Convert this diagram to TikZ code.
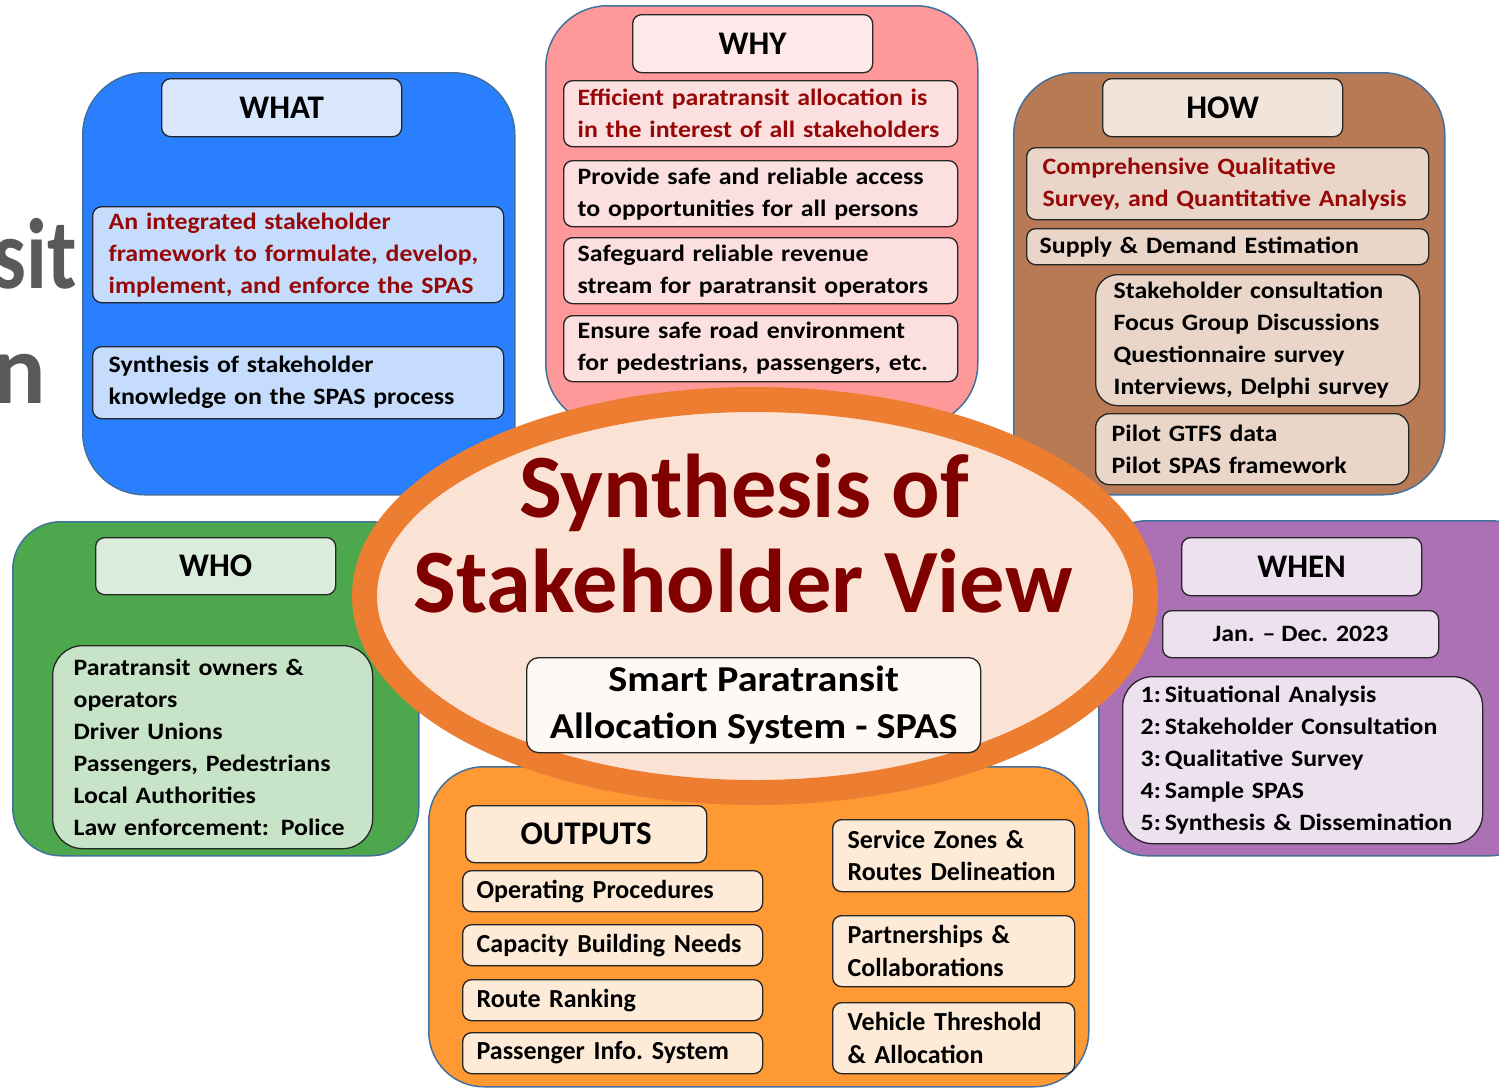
\documentclass[tikz,border=0pt]{standalone}
\usepackage{fontspec}
\setmainfont{Carlito}
\newfontfamily\widefont[FakeStretch=1.1,Ligatures=TeX]{Carlito}
\usetikzlibrary{shapes.geometric}
\definecolor{edgeb}{RGB}{65,113,156}
\definecolor{redtxt}{RGB}{150,8,8}
\definecolor{titlered}{RGB}{128,0,0}
\definecolor{graytxt}{RGB}{89,89,89}
\definecolor{whatbg}{RGB}{42,127,255}
\definecolor{whatt}{RGB}{216,231,252}
\definecolor{whats}{RGB}{197,220,253}
\definecolor{whybg}{RGB}{255,153,153}
\definecolor{whyt}{RGB}{253,233,233}
\definecolor{whys}{RGB}{252,224,224}
\definecolor{howbg}{RGB}{184,122,85}
\definecolor{howt}{RGB}{241,228,219}
\definecolor{hows}{RGB}{233,214,200}
\definecolor{whobg}{RGB}{77,168,77}
\definecolor{whot}{RGB}{218,236,218}
\definecolor{whos}{RGB}{200,228,200}
\definecolor{whenbg}{RGB}{171,113,180}
\definecolor{whens}{RGB}{237,225,239}
\definecolor{outbg}{RGB}{255,153,51}
\definecolor{outs}{RGB}{253,234,215}
\definecolor{ring}{RGB}{237,125,49}
\definecolor{ellin}{RGB}{250,227,212}
\definecolor{centbox}{RGB}{254,249,245}
\newcommand\myfs[2]{\fontsize{#1bp}{#2bp}\selectfont\bfseries}
\newcommand\mywfs[2]{\widefont\fontsize{#1bp}{#2bp}\selectfont\bfseries}
\tikzset{
  big/.style={draw=edgeb, line width=1.5bp, anchor=north west, inner sep=0pt, rounded corners=62bp},
  sub/.style={draw=black!85, line width=1.3bp, rounded corners=9bp, anchor=north west, align=left, inner ysep=0pt, font=\mywfs{23.5}{32}},
  ttl/.style={draw=black!85, line width=1.3bp, rounded corners=9bp, anchor=north west, align=center, inner sep=0pt, font=\myfs{33}{35}},
  osub/.style={sub, font=\myfs{26}{32.5}},
}
\begin{document}
\begin{tikzpicture}[x=1bp,y=-1bp]
\useasboundingbox (0,0) rectangle (1499,1088);
\clip (0,0) rectangle (1499,1088);
% background fragments
\node[anchor=base east, text=graytxt, font=\myfs{100}{100}, inner sep=0pt] (frag1) at (77,288) {\scalebox{0.85}[1]{sit}};
\node[anchor=base east, text=graytxt, font=\myfs{100}{100}, inner sep=0pt] (frag2) at (46,403) {n};
% WHAT
\node[big, fill=whatbg, minimum width=432bp, minimum height=422bp] (what) at (82,72) {};
\node[ttl, fill=whatt, minimum width=240bp, minimum height=58bp] (whatt) at (161,78) {WHAT};
\node[sub, fill=whats, minimum width=411bp, minimum height=96bp, text width=379bp, inner xsep=16bp, text=redtxt] (what1) at (92,206) {An integrated stakeholder\\framework to formulate, develop,\\implement, and enforce the SPAS};
\node[sub, fill=whats, minimum width=411bp, minimum height=72bp, text width=379bp, inner xsep=16bp] (what2) at (92,346) {Synthesis of stakeholder\\knowledge on the SPAS process};
% WHY
\node[big, fill=whybg, minimum width=432bp, minimum height=420bp] (why) at (545,5) {};
\node[ttl, fill=whyt, minimum width=240bp, minimum height=58bp] (whyt) at (632,14) {WHY};
\node[sub, fill=whys, minimum width=394bp, minimum height=66bp, text width=366bp, inner xsep=14bp, text=redtxt] (why1) at (563,80) {Efficient paratransit allocation is\\in the interest of all stakeholders};
\node[sub, fill=whys, minimum width=394bp, minimum height=66bp, text width=366bp, inner xsep=14bp] (why2) at (563,160) {Provide safe and reliable access\\to opportunities for all persons};
\node[sub, fill=whys, minimum width=394bp, minimum height=66bp, text width=366bp, inner xsep=14bp] (why3) at (563,237) {Safeguard reliable revenue\\stream for paratransit operators};
\node[sub, fill=whys, minimum width=394bp, minimum height=66bp, text width=366bp, inner xsep=14bp] (why4) at (563,315) {Ensure safe road environment\\for pedestrians, passengers, etc.};
% HOW
\node[big, fill=howbg, minimum width=431bp, minimum height=422bp] (how) at (1013,72) {};
\node[ttl, fill=howt, minimum width=240bp, minimum height=58bp] (howt) at (1102,78) {HOW};
\node[sub, fill=hows, minimum width=402bp, minimum height=72bp, text width=370bp, inner xsep=16bp, text=redtxt] (how1) at (1026,147) {Comprehensive Qualitative\\Survey, and Quantitative Analysis};
\node[sub, fill=hows, minimum width=402bp, minimum height=36bp, text width=376bp, inner xsep=13bp] (how2) at (1026,228) {Supply \& Demand Estimation};
\node[sub, fill=hows, minimum width=324bp, minimum height=131bp, text width=288bp, inner xsep=18bp, rounded corners=22bp] (how3) at (1095,274) {Stakeholder consultation\\Focus Group Discussions\\Questionnaire survey\\Interviews, Delphi survey};
\node[sub, fill=hows, minimum width=313bp, minimum height=71bp, text width=281bp, inner xsep=16bp, rounded corners=14bp] (how4) at (1095,413) {Pilot GTFS data\\Pilot SPAS framework};
% WHO
\node[big, fill=whobg, minimum width=406bp, minimum height=334bp, rounded corners=48bp] (who) at (12,521) {};
\node[ttl, fill=whot, minimum width=240bp, minimum height=57bp] (whot) at (95,537) {WHO};
\node[sub, fill=whos, minimum width=320bp, minimum height=203bp, text width=278bp, inner xsep=21bp, rounded corners=30bp] (who1) at (52,645) {Paratransit owners \&\\operators\\Driver Unions\\Passengers, Pedestrians\\Local Authorities\\Law enforcement: Police};
% WHEN
\node[big, fill=whenbg, minimum width=440bp, minimum height=335bp, rounded corners=48bp] (when) at (1098,520) {};
\node[ttl, fill=whens, minimum width=240bp, minimum height=58bp] (whent) at (1181,537) {WHEN};
\node[sub, fill=whens, minimum width=276bp, minimum height=47bp, align=center, inner xsep=0pt] (when1) at (1162,610) {Jan. – Dec. 2023};
\node[sub, fill=whens, minimum width=360bp, minimum height=167bp, text width=324bp, inner xsep=18bp, rounded corners=30bp] (when2) at (1122,676) {1:\,Situational Analysis\\2:\,Stakeholder Consultation\\3:\,Qualitative Survey\\4:\,Sample SPAS\\5:\,Synthesis \& Dissemination};
% OUTPUTS
\node[big, fill=outbg, minimum width=660bp, minimum height=320bp, rounded corners=55bp] (outp) at (428,766) {};
% central ellipse
\node[ellipse, draw=ring, line width=25bp, fill=ellin, minimum width=781bp, minimum height=393bp, inner sep=0pt] (ell) at (755,596) {};
\node[anchor=base, text=titlered, font=\myfs{90.5}{95}, inner sep=0pt] (title1) at (744,517) {Synthesis of};
\node[anchor=base, text=titlered, font=\myfs{90.5}{95}, inner sep=0pt] (title2) at (743,612) {Stakeholder View};
\node[sub, fill=centbox, minimum width=454bp, minimum height=95bp, align=center, inner xsep=0pt, rounded corners=12bp, font=\mywfs{36.5}{47}] (spas) at (526,657) {Smart Paratransit\\Allocation System - SPAS};
% OUTPUTS sub boxes
\node[ttl, fill=outs, minimum width=241bp, minimum height=57bp] (outt) at (465,805) {OUTPUTS};
\node[osub, fill=outs, minimum width=300bp, minimum height=41bp, text width=272bp, inner xsep=14bp] (o1) at (462,870) {Operating Procedures};
\node[osub, fill=outs, minimum width=300bp, minimum height=41bp, text width=272bp, inner xsep=14bp] (o2) at (462,924) {Capacity Building Needs};
\node[osub, fill=outs, minimum width=300bp, minimum height=41bp, text width=272bp, inner xsep=14bp] (o3) at (462,979) {Route Ranking};
\node[osub, fill=outs, minimum width=300bp, minimum height=41bp, text width=272bp, inner xsep=14bp] (o4) at (462,1032) {Passenger Info.\ System};
\node[osub, fill=outs, minimum width=242bp, minimum height=72bp, text width=212bp, inner xsep=15bp] (o5) at (832,819) {Service Zones \&\\Routes Delineation};
\node[osub, fill=outs, minimum width=242bp, minimum height=71bp, text width=212bp, inner xsep=15bp] (o6) at (832,915) {Partnerships \&\\Collaborations};
\node[osub, fill=outs, minimum width=242bp, minimum height=71bp, text width=212bp, inner xsep=15bp] (o7) at (832,1002) {Vehicle Threshold\\\& Allocation};
\end{tikzpicture}
\end{document}
